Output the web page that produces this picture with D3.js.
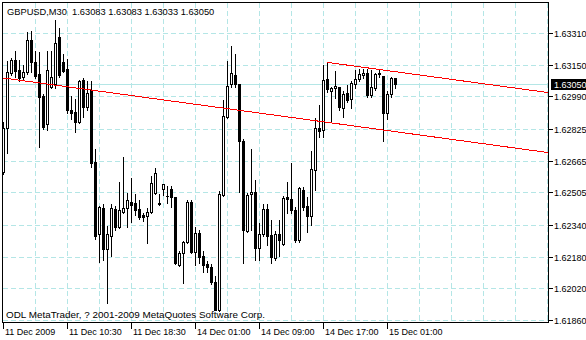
<!DOCTYPE html>
<html>
<head>
<meta charset="utf-8">
<script src="https://cdn.jsdelivr.net/npm/d3@7"></script>
<style>
  body { margin: 0; background: #fff; }
  svg { display: block; }
  text { font-family: "Liberation Sans", Arial, sans-serif; font-size: 9px; fill: #000; white-space: pre; }
</style>
</head>
<body>
<svg id="chart" width="586" height="340"></svg>
<script>
// GBPUSD M30, one value per bar, oldest first
var symbol = "GBPUSD", period = "M30";
var opens = [1.62610,1.62832,1.63110,1.63176,1.63125,1.63090,1.63115,1.63277,1.63166,1.63105,
  1.62994,1.62848,1.63039,1.63050,1.63292,1.63161,1.63130,1.62923,1.62913,1.62858,
  1.63075,1.62938,1.63024,1.62660,1.62292,1.62428,1.62221,1.62282,1.62423,1.62332,
  1.62408,1.62428,1.62458,1.62453,1.62423,1.62388,1.62383,1.62408,1.62504,1.62453,
  1.62524,1.62489,1.62524,1.62479,1.62140,1.62201,1.62256,1.62458,1.62206,1.62302,
  1.62181,1.62145,1.62130,1.62054,1.61913,1.62494,1.62888,1.63050,1.63100,1.63050,
  1.62762,1.62312,1.62499,1.62509,1.62226,1.62292,1.62423,1.62287,1.62171,1.62292,
  1.62246,1.62479,1.62469,1.62418,1.62266,1.62519,1.62438,1.62383,1.62620,1.62832,
  1.62822,1.63080,1.63019,1.63034,1.63039,1.62933,1.63009,1.62979,1.63050,1.63080,
  1.63100,1.63110,1.62999,1.63034,1.63105,1.63095,1.62908,1.63004,1.63083];
var highs = [1.62863,1.63176,1.63191,1.63226,1.63181,1.63151,1.63322,1.63327,1.63226,1.63221,
  1.63009,1.63226,1.63226,1.63383,1.63338,1.63211,1.63186,1.62999,1.62984,1.63080,
  1.63090,1.63075,1.63075,1.62731,1.62443,1.62453,1.62342,1.62453,1.62443,1.62560,
  1.62691,1.62509,1.62580,1.62504,1.62469,1.62408,1.62433,1.62595,1.62635,1.62504,
  1.62554,1.62544,1.62544,1.62484,1.62216,1.62266,1.62469,1.62469,1.62337,1.62322,
  1.62216,1.62165,1.62150,1.62085,1.62519,1.62979,1.63176,1.63247,1.63211,1.63055,
  1.62782,1.62509,1.62731,1.62570,1.62357,1.62453,1.62453,1.62368,1.62317,1.62368,
  1.62494,1.62560,1.62660,1.62438,1.62539,1.62539,1.62484,1.62721,1.62888,1.62949,
  1.63151,1.63161,1.63044,1.63125,1.63044,1.63024,1.63050,1.63075,1.63130,1.63135,
  1.63135,1.63135,1.63130,1.63115,1.63130,1.63100,1.63024,1.63095,1.63083];
var lows = [1.62600,1.62706,1.63100,1.63090,1.63065,1.63075,1.63105,1.63115,1.63085,1.62736,
  1.62827,1.62822,1.63034,1.63034,1.63090,1.63115,1.62908,1.62873,1.62812,1.62853,
  1.62888,1.62923,1.62635,1.62271,1.62155,1.62165,1.61948,1.62181,1.62317,1.62327,
  1.62403,1.62332,1.62357,1.62393,1.62368,1.62362,1.62251,1.62403,1.62499,1.62443,
  1.62494,1.62453,1.62433,1.62145,1.62135,1.62049,1.62251,1.62201,1.62140,1.62150,
  1.62100,1.62100,1.62044,1.61908,1.61903,1.62484,1.62883,1.63039,1.63039,1.62509,
  1.62150,1.62307,1.62317,1.62165,1.62165,1.62282,1.62241,1.62150,1.62165,1.62181,
  1.62241,1.62403,1.62403,1.62256,1.62256,1.62418,1.62307,1.62342,1.62519,1.62787,
  1.62787,1.63014,1.62858,1.62984,1.62923,1.62888,1.62959,1.62933,1.63034,1.63065,
  1.63085,1.62989,1.62989,1.63024,1.63090,1.62762,1.62873,1.62989,1.63033];
var closes = [1.62832,1.63115,1.63176,1.63120,1.63085,1.63115,1.63277,1.63161,1.63095,1.62989,
  1.62837,1.63125,1.63090,1.63262,1.63100,1.63120,1.62923,1.62908,1.62858,1.63070,
  1.62938,1.63009,1.62655,1.62282,1.62433,1.62221,1.62292,1.62428,1.62332,1.62418,
  1.62428,1.62464,1.62443,1.62418,1.62378,1.62378,1.62408,1.62554,1.62605,1.62448,
  1.62549,1.62484,1.62479,1.62150,1.62201,1.62256,1.62458,1.62206,1.62302,1.62176,
  1.62140,1.62130,1.62054,1.61913,1.62499,1.62893,1.63044,1.63110,1.63050,1.62762,
  1.62317,1.62494,1.62509,1.62226,1.62292,1.62423,1.62282,1.62176,1.62297,1.62266,
  1.62474,1.62469,1.62418,1.62266,1.62529,1.62433,1.62383,1.62625,1.62832,1.62817,
  1.63075,1.63029,1.63034,1.63044,1.62938,1.63004,1.62974,1.63055,1.63080,1.63105,
  1.63110,1.62999,1.63039,1.63105,1.63110,1.62908,1.63004,1.63085,1.63050];

var timeTicks = [0, 16, 32, 48, 64, 80, 96];
var timeLabels = ["11 Dec 2009", "11 Dec 10:30", "11 Dec 18:30", "14 Dec 01:00",
                  "14 Dec 09:00", "14 Dec 17:00", "15 Dec 01:00"];
var priceTicks = [1.63310, 1.63150, 1.62990, 1.62825, 1.62665, 1.62505, 1.62340, 1.62180, 1.62020, 1.61860];
var bid = 1.63050;
// equidistant channel: [bar, price] anchors
var channelBase = [[0, 1.63085], [98, 1.62814]];
var channelTop = [[81, 1.63164], [98, 1.63117]];
var copyright = "ODL MetaTrader, ? 2001-2009 MetaQuotes Software Corp.";

var gridColor = "#b4e6e6";
var lastBar = 136.25;   // bar index at the right frame

var svg = d3.select("#chart");
var x = d3.scaleLinear().domain([0, lastBar]).range([3.5, 548.5]);
var y = d3.scaleLinear().domain([1.61860, 1.63310]).range([320.5, 33.5]);
var snap = function(v) { return Math.floor(v) + 0.5; };
var fmt = d3.format(".5f");

// grid
var grid = svg.append("g").attr("stroke", gridColor).attr("stroke-dasharray", "5,3")
  .attr("shape-rendering", "crispEdges");
grid.selectAll("line.h").data(priceTicks).enter().append("line")
  .attr("x1", 3).attr("x2", 548)
  .attr("y1", function(d) { return snap(y(d)); })
  .attr("y2", function(d) { return snap(y(d)); });
grid.selectAll("line.v").data(d3.range(8, lastBar, 8)).enter().append("line")
  .attr("x1", function(d) { return x(d); }).attr("x2", function(d) { return x(d); })
  .attr("y1", 3).attr("y2", 322);

// bid line
svg.append("line").attr("x1", 3).attr("x2", 548)
  .attr("y1", snap(y(bid))).attr("y2", snap(y(bid)))
  .attr("stroke", gridColor).attr("shape-rendering", "crispEdges");

// candles
var bars = d3.range(opens.length);
var cg = svg.append("g").attr("shape-rendering", "crispEdges").attr("stroke", "#000");
bars.forEach(function(i) {
  var cx = x(i);
  cg.append("line").attr("x1", cx).attr("x2", cx)
    .attr("y1", snap(y(highs[i]))).attr("y2", snap(y(lows[i])));
  var top = snap(y(Math.max(opens[i], closes[i])));
  var bot = snap(y(Math.min(opens[i], closes[i])));
  if (bot - top < 1) {
    cg.append("line").attr("x1", cx - 1.5).attr("x2", cx + 1.5).attr("y1", top).attr("y2", top);
  } else {
    cg.append("rect").attr("x", cx - 1).attr("width", 2)
      .attr("y", top).attr("height", bot - top)
      .attr("fill", closes[i] >= opens[i] ? "#fff" : "#000");
  }
});

// channel lines, extended to the right edge
function ray(pts) {
  var slope = (pts[1][1] - pts[0][1]) / (pts[1][0] - pts[0][0]);
  var endPrice = pts[0][1] + slope * (lastBar - pts[0][0]);
  svg.append("line")
    .attr("x1", x(pts[0][0])).attr("y1", y(pts[0][1]))
    .attr("x2", x(lastBar)).attr("y2", y(endPrice))
    .attr("stroke", "#ff0000").attr("shape-rendering", "crispEdges");
}
ray(channelBase);
ray(channelTop);

// frame
svg.append("rect").attr("x", 2.5).attr("y", 2.5).attr("width", 546).attr("height", 320)
  .attr("fill", "none").attr("stroke", "#000").attr("shape-rendering", "crispEdges");

// price axis
var yAxis = svg.append("g").attr("transform", "translate(548.5,0)")
  .call(d3.axisRight(y).tickValues(priceTicks).tickFormat(fmt).tickSize(4).tickPadding(1.5).offset(0));
yAxis.select(".domain").remove();
yAxis.selectAll("line").attr("shape-rendering", "crispEdges");
yAxis.selectAll("text").attr("dy", "0.39em");
yAxis.attr("font-size", null).attr("font-family", null);

// current price tag
var by = snap(y(bid));
svg.append("rect").attr("x", 551).attr("y", by - 5.5).attr("width", 35).attr("height", 11).attr("fill", "#000");
svg.append("text").attr("x", 554).attr("y", by + 3.5).style("fill", "#fff").text(fmt(bid));

// time axis
var xAxis = svg.append("g").attr("transform", "translate(0,322.5)")
  .call(d3.axisBottom(x).tickValues(timeTicks)
    .tickFormat(function(d, i) { return timeLabels[i]; }).tickSize(6).offset(0));
xAxis.select(".domain").remove();
xAxis.attr("font-size", null).attr("font-family", null);
xAxis.selectAll("line").attr("shape-rendering", "crispEdges");
xAxis.selectAll("text").attr("text-anchor", "start").attr("x", 1.5).attr("y", 12.5).attr("dy", null);

// title and copyright
var n = opens.length - 1;
svg.append("text").attr("x", 7).attr("y", 15).style("font-size", "9.3px")
  .text(symbol + "," + period + "  " + [opens[n], highs[n], lows[n], closes[n]].map(fmt).join(" "));
svg.append("text").attr("x", 6).attr("y", 318).style("font-size", "9.9px").text(copyright);
</script>
</body>
</html>
